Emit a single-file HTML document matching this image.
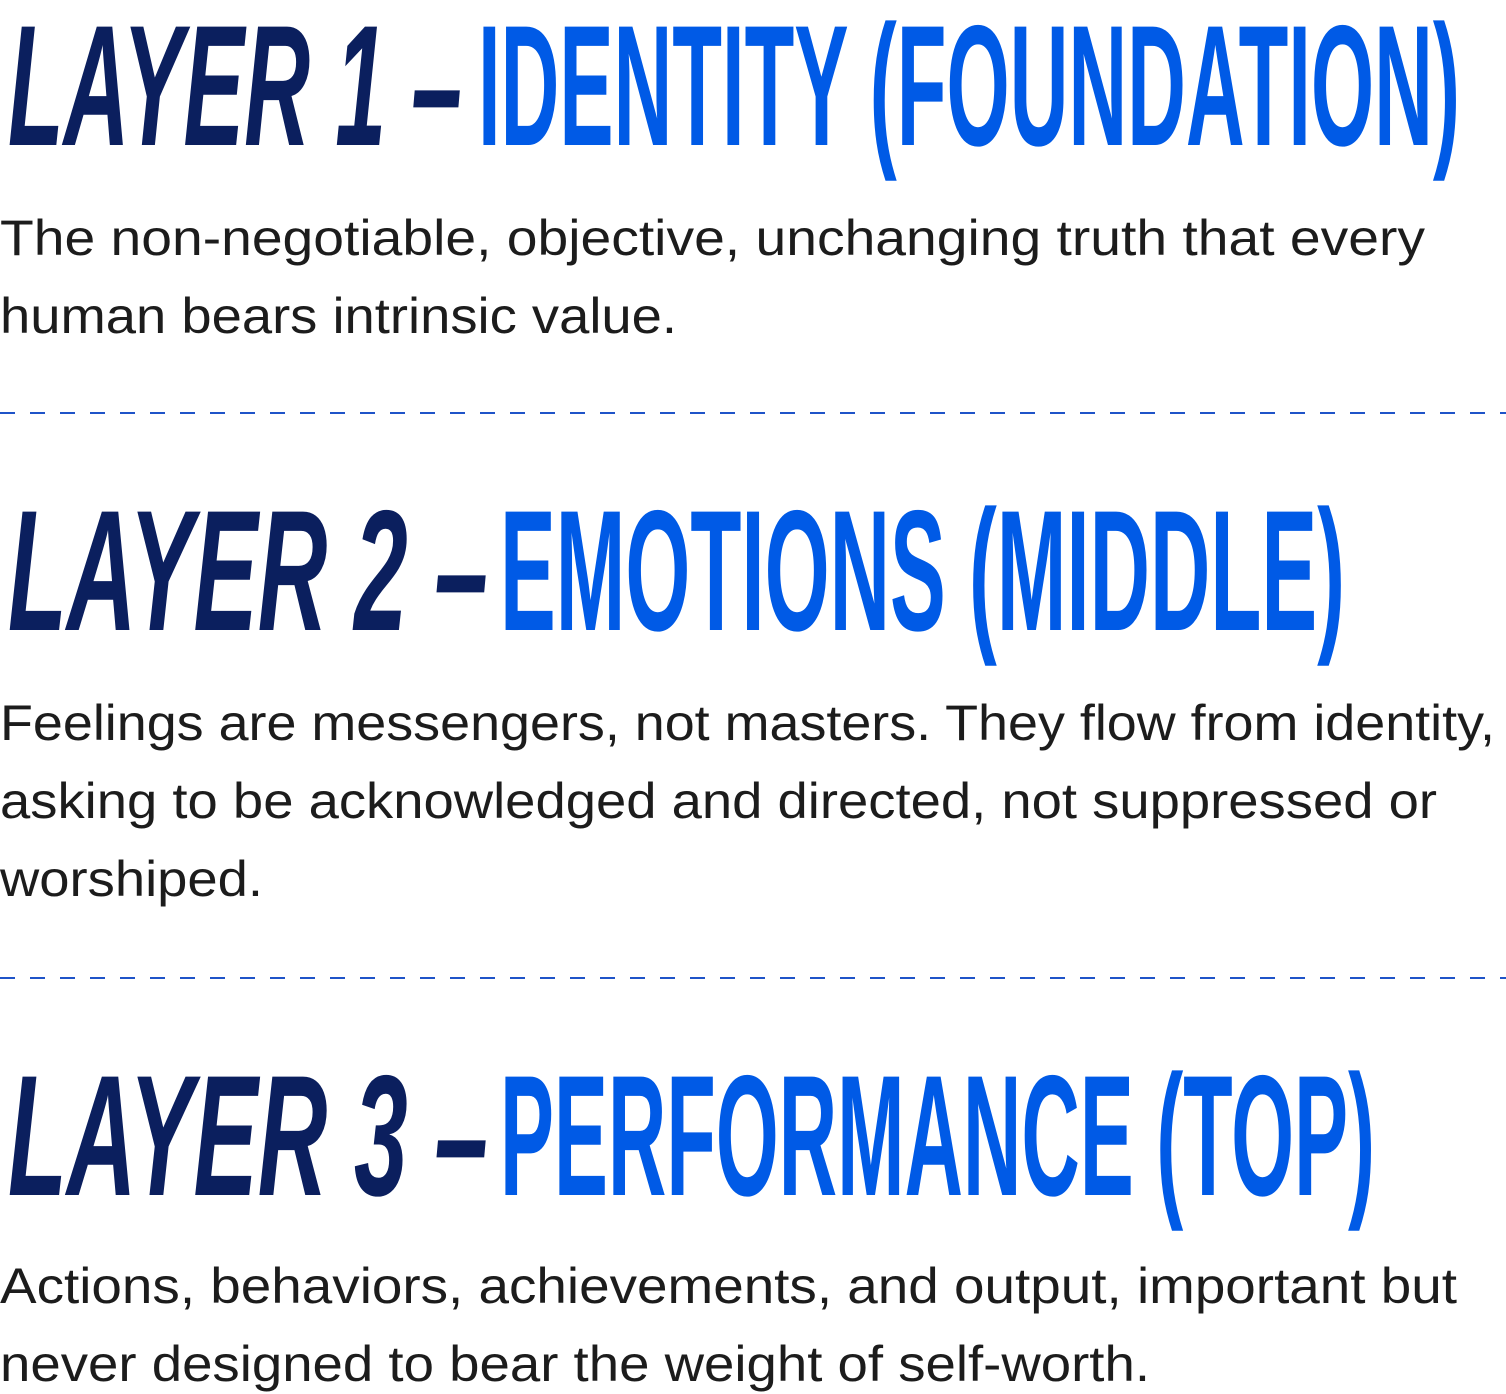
<!DOCTYPE html>
<html><head><meta charset="utf-8"><style>
html,body{margin:0;padding:0;background:#fff;width:1506px;height:1394px;overflow:hidden}
svg{display:block}
.d{fill:#0b1f5e;font-family:"Liberation Sans",sans-serif;font-weight:bold;font-style:italic;font-size:172px}
.b{fill:#005ae6;font-family:"Liberation Sans",sans-serif;font-weight:bold;font-size:172px}
.t{fill:#1c1c1c;font-family:"Liberation Sans",sans-serif;font-size:50px}
</style></head><body>
<svg width="1506" height="1394" viewBox="0 0 1506 1394">
<text class="d" x="8" y="145" textLength="454" lengthAdjust="spacingAndGlyphs">LAYER 1 –</text>
<text class="b" x="478" y="145" textLength="982" lengthAdjust="spacingAndGlyphs">IDENTITY (FOUNDATION)</text>
<text class="t" x="0" y="255" textLength="1425" lengthAdjust="spacingAndGlyphs">The non-negotiable, objective, unchanging truth that every</text>
<text class="t" x="0" y="333" textLength="677" lengthAdjust="spacingAndGlyphs">human bears intrinsic value.</text>
<line x1="0" y1="413" x2="1506" y2="413" stroke="#1f54c8" stroke-width="2" stroke-dasharray="15 15"/>
<text class="d" x="8" y="630" textLength="480" lengthAdjust="spacingAndGlyphs">LAYER 2 –</text>
<text class="b" x="500" y="630" textLength="845" lengthAdjust="spacingAndGlyphs">EMOTIONS (MIDDLE)</text>
<text class="t" x="0" y="740" textLength="1495" lengthAdjust="spacingAndGlyphs">Feelings are messengers, not masters. They flow from identity,</text>
<text class="t" x="0" y="818" textLength="1437" lengthAdjust="spacingAndGlyphs">asking to be acknowledged and directed, not suppressed or</text>
<text class="t" x="0" y="896" textLength="263" lengthAdjust="spacingAndGlyphs">worshiped.</text>
<line x1="0" y1="978" x2="1506" y2="978" stroke="#1f54c8" stroke-width="2" stroke-dasharray="15 15"/>
<text class="d" x="8" y="1195" textLength="480" lengthAdjust="spacingAndGlyphs">LAYER 3 –</text>
<text class="b" x="500" y="1195" textLength="875" lengthAdjust="spacingAndGlyphs">PERFORMANCE (TOP)</text>
<text class="t" x="0" y="1303" textLength="1457" lengthAdjust="spacingAndGlyphs">Actions, behaviors, achievements, and output, important but</text>
<text class="t" x="0" y="1381" textLength="1150" lengthAdjust="spacingAndGlyphs">never designed to bear the weight of self-worth.</text>
</svg>
</body></html>
